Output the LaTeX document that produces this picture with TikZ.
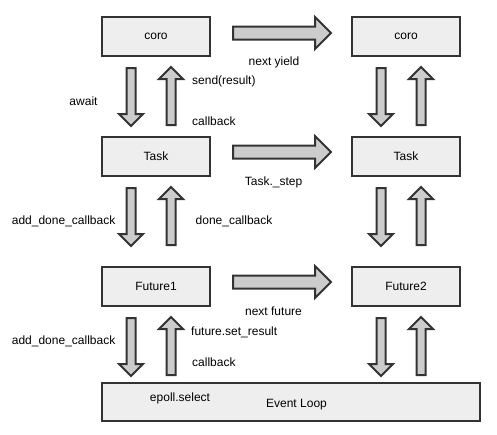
\documentclass[tikz,border=0pt]{standalone}
\usepackage{fontspec}
\setmainfont{Liberation Sans}
\usetikzlibrary{shapes.arrows}
\definecolor{boxgray}{RGB}{238, 238, 238}
\definecolor{arrowgray}{RGB}{204, 204, 204}
\definecolor{edgegray}{RGB}{51, 51, 51}
\begin{document}
\begin{tikzpicture}[x=1pt, y=-1pt, font=\fontsize{12}{14}\selectfont,
    block/.style={draw=edgegray, line width=2pt, fill=boxgray, minimum width=108pt, minimum height=39pt, inner sep=0pt},
    fatright/.style={single arrow, draw=edgegray, line width=2pt, fill=arrowgray, inner sep=5.5pt, single arrow head extend=9.5pt, minimum height=98pt, anchor=tail},
    fatdown/.style={single arrow, draw=edgegray, line width=2pt, fill=arrowgray, inner sep=3.5pt, single arrow head extend=7.5pt, minimum height=58pt, anchor=tail, rotate=-90},
    fatup/.style={fatdown, rotate=180},
    lbl/.style={inner sep=0pt}]
                    \useasboundingbox (0,0) rectangle (497,434);
                    \node[block] (coro) at (156,36.5) {coro};
                    \node[block] (coro2) at (406,36.5) {coro};
                    \node[block] (task) at (156,156.5) {Task};
                    \node[block] (task2) at (406,156.5) {Task};
                    \node[block] (fut1) at (156,286.5) {Future1};
                    \node[block] (fut2) at (406,286.5) {Future2};
                    \node[block, minimum width=378pt, minimum height=38pt] (loop) at (291,402) {};
                    \node[lbl] (looplbl) at (296.5,405) {Event Loop};
                    \node[fatright] (yield) at (232,33) {};
                    \node[fatright] (step) at (232,152) {};
                    \node[fatright] (next) at (232,282) {};
                    \foreach \col/\x in {l/0, r/250} {
                        \node[fatdown] (await\col) at (131+\x,67) {};
                        \node[fatup] (send\col) at (171+\x,126) {};
                        \node[fatdown] (adddone\col) at (131+\x,187) {};
                        \node[fatup] (done\col) at (171+\x,246) {};
                        \node[fatdown] (addfut\col) at (131+\x,317) {};
                        \node[fatup] (setres\col) at (171+\x,376) {};
                    }
                    \node[lbl] (awaitlbl) at (83.5,101) {await};
                    \node[lbl, anchor=west] (sendlbl) at (192,81) {send(result)};
                    \node[lbl, anchor=west] (cblbl) at (192,121) {callback};
                    \node[lbl] (yieldlbl) at (274,62) {next yield};
                    \node[lbl] (steplbl) at (273.5,182) {Task.\_step};
                    \node[lbl, anchor=east] (adddonelbl) at (115.5,221) {add\_done\_callback};
                    \node[lbl, anchor=west] (donelbl) at (195.5,221) {done\_callback};
                    \node[lbl] (nextlbl) at (273.5,311) {next future};
                    \node[lbl, anchor=east] (addfutlbl) at (115.5,341) {add\_done\_callback};
                    \node[lbl, anchor=west] (setreslbl) at (191,332) {future.set\_result};
                    \node[lbl, anchor=west] (cb2lbl) at (192,362) {callback};
                    \node[lbl] (epolllbl) at (180,398) {epoll.select};
                \end{tikzpicture}
\end{document}
